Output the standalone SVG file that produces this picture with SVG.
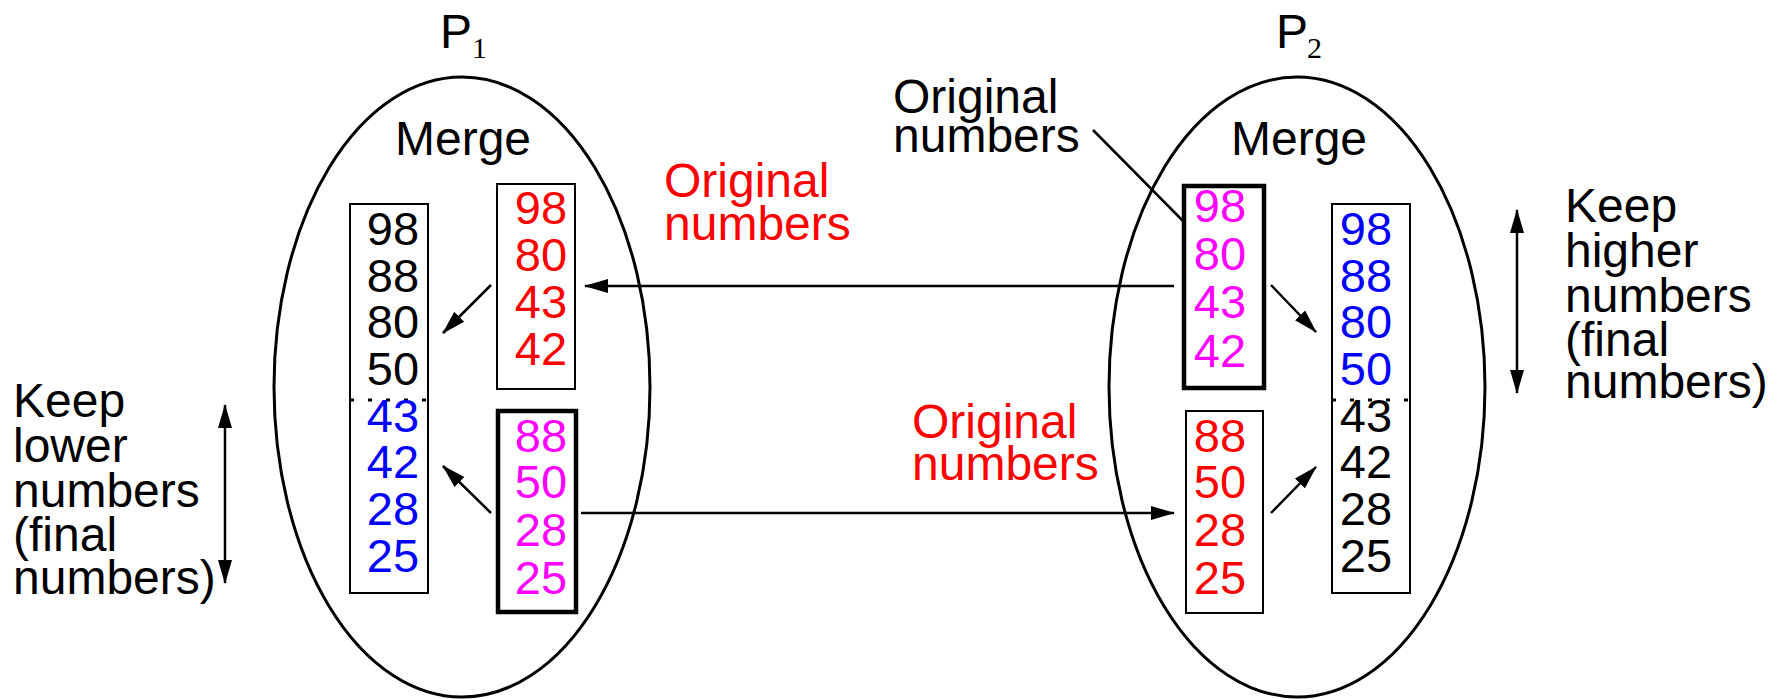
<svg xmlns="http://www.w3.org/2000/svg" width="1785" height="699" viewBox="0 0 1785 699">
<style>
text{font-family:"Liberation Sans",Arial,sans-serif;}
.lbl{font-size:48px;fill:#000;}
.num{font-size:47px;text-anchor:middle;}
.sub{font-family:"Liberation Serif","Times New Roman",serif;font-size:30px;}
.red{fill:#ff0000;}
.mag{fill:#ff00ff;}
.blu{fill:#0000ff;}
.blk{fill:#000;}
.ell{fill:none;stroke:#000;stroke-width:3;}
.box{fill:none;stroke:#000;stroke-width:2;}
.tbox{fill:none;stroke:#000;stroke-width:4.5;}
.con{stroke:#000;stroke-width:2.5;fill:none;}
.dash{stroke:#000;stroke-width:3;stroke-dasharray:4,14;}
</style>
<defs>
<marker id="ah" markerUnits="userSpaceOnUse" markerWidth="24" markerHeight="16" viewBox="0 0 24 16" refX="23" refY="8" orient="auto-start-reverse">
<path d="M0,1 L24,8 L0,15 Z" fill="#000"/>
</marker>
</defs>

<g id="p1">
<text class="lbl" x="440" y="48">P</text><text class="sub" x="472" y="58">1</text>
<ellipse class="ell" cx="462" cy="387" rx="188" ry="310"/>
<text class="lbl" x="395" y="155">Merge</text>
</g>

<g id="p2">
<text class="lbl" x="1276" y="48">P</text><text class="sub" x="1307" y="58">2</text>
<ellipse class="ell" cx="1297" cy="387" rx="188" ry="310"/>
<text class="lbl" x="1231" y="155">Merge</text>
</g>

<g id="boxA">
<rect class="box" x="350" y="204" width="78" height="389"/>
<text class="num blk" x="393" y="245">98</text>
<text class="num blk" x="393" y="292">88</text>
<text class="num blk" x="393" y="338">80</text>
<text class="num blk" x="393" y="385">50</text>
<line class="dash" x1="350" y1="400" x2="428" y2="400"/>
<text class="num blu" x="393" y="432">43</text>
<text class="num blu" x="393" y="478">42</text>
<text class="num blu" x="393" y="525">28</text>
<text class="num blu" x="393" y="572">25</text>
</g>

<g id="boxB">
<rect class="box" x="497" y="184" width="78" height="205"/>
<text class="num red" x="541" y="224">98</text>
<text class="num red" x="541" y="271">80</text>
<text class="num red" x="541" y="318">43</text>
<text class="num red" x="541" y="365">42</text>
</g>

<g id="boxC">
<rect class="tbox" x="498" y="411" width="78" height="201"/>
<text class="num mag" x="541" y="452">88</text>
<text class="num mag" x="541" y="498">50</text>
<text class="num mag" x="541" y="546">28</text>
<text class="num mag" x="541" y="594">25</text>
</g>

<g id="boxD">
<rect class="tbox" x="1184" y="186" width="80" height="202"/>
<text class="num mag" x="1220" y="222">98</text>
<text class="num mag" x="1220" y="270">80</text>
<text class="num mag" x="1220" y="318">43</text>
<text class="num mag" x="1220" y="367">42</text>
</g>

<g id="boxE">
<rect class="box" x="1332" y="204" width="78" height="389"/>
<text class="num blu" x="1366" y="245">98</text>
<text class="num blu" x="1366" y="292">88</text>
<text class="num blu" x="1366" y="338">80</text>
<text class="num blu" x="1366" y="385">50</text>
<line class="dash" x1="1332" y1="400" x2="1410" y2="400"/>
<text class="num blk" x="1366" y="432">43</text>
<text class="num blk" x="1366" y="478">42</text>
<text class="num blk" x="1366" y="525">28</text>
<text class="num blk" x="1366" y="572">25</text>
</g>

<g id="boxF">
<rect class="box" x="1186" y="411" width="77" height="202"/>
<text class="num red" x="1220" y="452">88</text>
<text class="num red" x="1220" y="498">50</text>
<text class="num red" x="1220" y="546">28</text>
<text class="num red" x="1220" y="594">25</text>
</g>

<g id="label-orig-top" class="red">
<text class="lbl red" x="664" y="197">Original</text>
<text class="lbl red" x="664" y="240">numbers</text>
</g>
<g id="label-orig-bottom">
<text class="lbl red" x="912" y="438">Original</text>
<text class="lbl red" x="912" y="480">numbers</text>
</g>
<g id="label-orig-p2">
<text class="lbl" x="893" y="113">Original</text>
<text class="lbl" x="893" y="152">numbers</text>
</g>
<g id="label-keep-lower">
<text class="lbl" x="13" y="417">Keep</text>
<text class="lbl" x="13" y="462">lower</text>
<text class="lbl" x="13" y="507">numbers</text>
<text class="lbl" x="13" y="551">(final</text>
<text class="lbl" x="13" y="594">numbers)</text>
</g>
<g id="label-keep-higher">
<text class="lbl" x="1565" y="222">Keep</text>
<text class="lbl" x="1565" y="267">higher</text>
<text class="lbl" x="1565" y="312">numbers</text>
<text class="lbl" x="1565" y="356">(final</text>
<text class="lbl" x="1565" y="398">numbers)</text>
</g>

<g id="connectors">
<line class="con" x1="491" y1="285" x2="443" y2="333" marker-end="url(#ah)"/>
<line class="con" x1="491" y1="513" x2="443" y2="466" marker-end="url(#ah)"/>
<line class="con" x1="1174" y1="286" x2="585" y2="286" stroke-width="2" marker-end="url(#ah)"/>
<line class="con" x1="581" y1="513" x2="1174" y2="513" stroke-width="2" marker-end="url(#ah)"/>
<line class="con" x1="1271" y1="285" x2="1316" y2="332" marker-end="url(#ah)"/>
<line class="con" x1="1271" y1="513" x2="1316" y2="467" marker-end="url(#ah)"/>
<line class="con" x1="1093" y1="130" x2="1185" y2="223"/>
<line class="con" x1="225" y1="405" x2="225" y2="583" marker-start="url(#ah)" marker-end="url(#ah)"/>
<line class="con" x1="1517" y1="210" x2="1517" y2="393" marker-start="url(#ah)" marker-end="url(#ah)"/>
</g>
</svg>
